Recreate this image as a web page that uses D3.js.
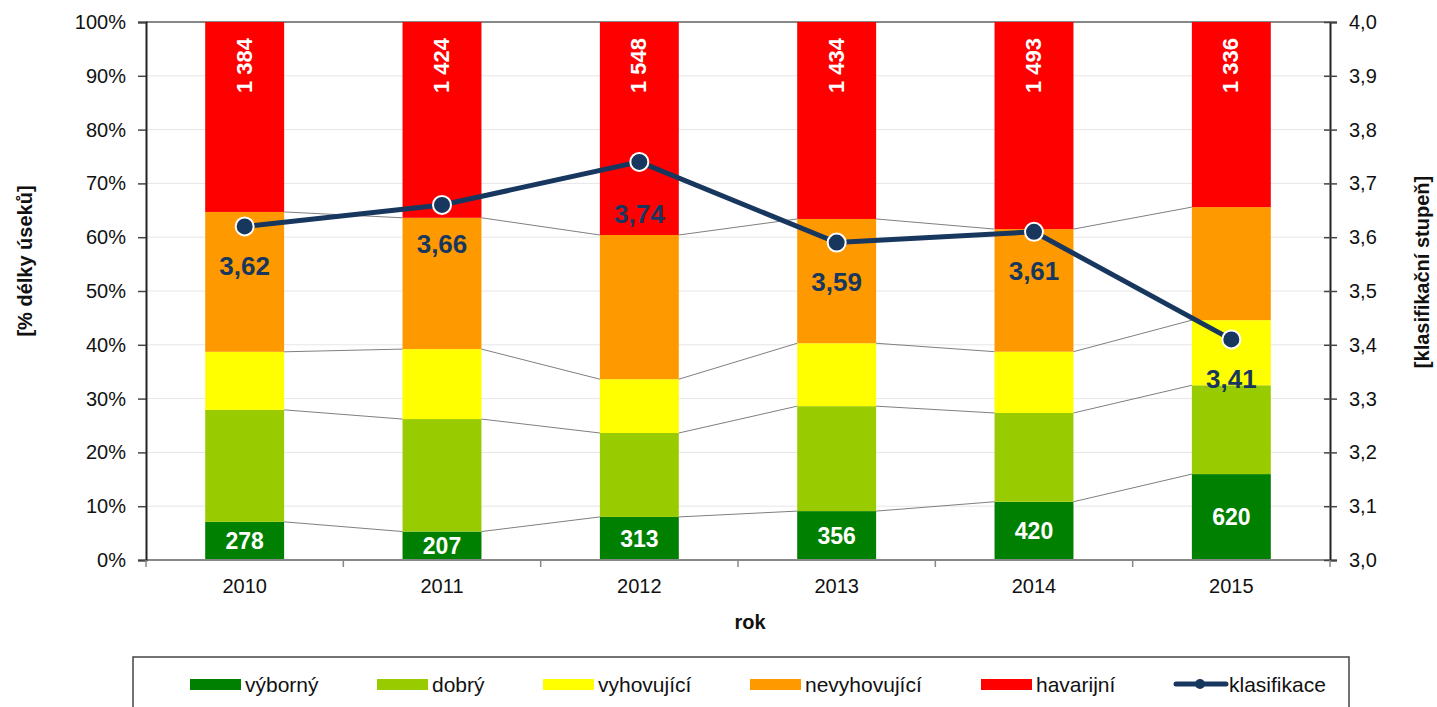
<!DOCTYPE html>
<html>
<head>
<meta charset="utf-8">
<style>
  body { margin: 0; background: #fff; }
  svg text { font-family: "Liberation Sans", Arial, sans-serif; }
</style>
<script src="https://cdn.jsdelivr.net/npm/d3@7"></script>
</head>
<body>
<div id="chart"></div>
<script>
// data (counts of road sections per class, and mean class)
const years = ['2010', '2011', '2012', '2013', '2014', '2015'];
const seriesNames = ['výborný', 'dobrý', 'vyhovující', 'nevyhovující', 'havarijní'];
const vyborny      = [278, 207, 313, 356, 420, 620];
const dobry        = [816, 818, 610, 764, 640, 641];
const vyhovujici   = [423, 509, 391, 458, 442, 470];
const nevyhovujici = [1019, 955, 1048, 905, 884, 816];
const havarijni    = [1384, 1424, 1548, 1434, 1493, 1336];
const klasifikace  = [3.62, 3.66, 3.74, 3.59, 3.61, 3.41];
const lineName = 'klasifikace';
const pctTicks = [0, 0.1, 0.2, 0.3, 0.4, 0.5, 0.6, 0.7, 0.8, 0.9, 1];
const gradeTicks = [3.0, 3.1, 3.2, 3.3, 3.4, 3.5, 3.6, 3.7, 3.8, 3.9, 4.0];

const colors = ['#008000', '#99CC00', '#FFFF00', '#FF9900', '#FF0000'];
const navy = '#17375E';

const cs = d3.formatLocale({decimal: ',', thousands: ' ', grouping: [3], currency: ['', ' Kč']});
const fmtPct = cs.format('.0%');
const fmtGrade = cs.format('.1f');
const fmtGrade2 = cs.format('.2f');
const fmtCount = cs.format(',d');

const W = 1437, H = 707;
const pLeft = 146, pRight = 1330, pTop = 22, pBottom = 560;

const cols = [vyborny, dobry, vyhovujici, nevyhovujici, havarijni];
const table = years.map((yr, i) => {
  const row = {year: yr};
  seriesNames.forEach((n, k) => row[n] = cols[k][i]);
  return row;
});
const stacked = d3.stack().keys(seriesNames).offset(d3.stackOffsetExpand)(table);

const x = d3.scaleBand().domain(years).range([pLeft, pRight]).paddingInner(0.6).paddingOuter(0.3);
const y = d3.scaleLinear().domain([0, 1]).range([pBottom, pTop]);
const y2 = d3.scaleLinear().domain([3, 4]).range([pBottom, pTop]);
const bw = x.bandwidth();
const gap = (x.step() - bw) / 2;

const svg = d3.select('#chart').append('svg').attr('width', W).attr('height', H);

// gridlines
svg.append('g').selectAll('line')
  .data(pctTicks.filter(t => t > 0 && t < 1))
  .enter().append('line')
  .attr('x1', pLeft).attr('x2', pRight)
  .attr('y1', d => y(d)).attr('y2', d => y(d))
  .attr('stroke', '#e6e6e6').attr('stroke-width', 1);
svg.append('line')
  .attr('x1', pLeft).attr('x2', pRight).attr('y1', y(1)).attr('y2', y(1))
  .attr('stroke', '#888').attr('stroke-width', 2);

// bars
svg.append('g').selectAll('g')
  .data(stacked)
  .enter().append('g')
  .attr('fill', (d, i) => colors[i])
  .selectAll('rect')
  .data(d => d)
  .enter().append('rect')
  .attr('x', d => x(d.data.year))
  .attr('width', bw)
  .attr('y', d => y(d[1]))
  .attr('height', d => y(d[0]) - y(d[1]));

// connector lines between bars
stacked.slice(0, 4).forEach(s => {
  for (let i = 0; i < s.length - 1; i++) {
    svg.append('line')
      .attr('x1', x(years[i]) + bw).attr('y1', y(s[i][1]))
      .attr('x2', x(years[i + 1])).attr('y2', y(s[i + 1][1]))
      .attr('stroke', '#7f7f7f').attr('stroke-width', 1);
  }
});

// bottom axis line
svg.append('line')
  .attr('x1', pLeft).attr('x2', pRight).attr('y1', pBottom).attr('y2', pBottom)
  .attr('stroke', '#888').attr('stroke-width', 2);

// bar labels
svg.append('g').selectAll('text')
  .data(stacked[0])
  .enter().append('text')
  .attr('x', d => x(d.data.year) + bw / 2)
  .attr('y', d => (y(d[0]) + y(d[1])) / 2)
  .attr('dy', '0.36em')
  .attr('text-anchor', 'middle')
  .attr('fill', '#fff').attr('font-size', 23).attr('font-weight', 'bold')
  .text(d => fmtCount(d.data[seriesNames[0]]));

svg.append('g').selectAll('text')
  .data(stacked[4])
  .enter().append('text')
  .attr('transform', d => `translate(${x(d.data.year) + bw / 2 - 1},${y(d[1]) + 16}) rotate(-90)`)
  .attr('dy', '0.36em')
  .attr('text-anchor', 'end')
  .attr('fill', '#fff').attr('font-size', 22).attr('font-weight', 'bold')
  .text(d => fmtCount(d.data[seriesNames[4]]));

// axes
const yAxis = svg.append('g')
  .attr('transform', `translate(${pLeft},0)`)
  .call(d3.axisLeft(y).tickValues(pctTicks).tickFormat(fmtPct).tickSize(8).tickPadding(12));
const y2Axis = svg.append('g')
  .attr('transform', `translate(${pRight},0)`)
  .call(d3.axisRight(y2).tickValues(gradeTicks).tickFormat(fmtGrade).tickSize(7).tickPadding(12));
y2Axis.selectAll('.tick line').attr('x1', -6);
const xAxis = svg.append('g')
  .attr('transform', `translate(0,${pBottom})`)
  .call(d3.axisBottom(x).tickSize(0).tickPadding(19));
xAxis.select('.domain').remove();
[yAxis, y2Axis].forEach(g => {
  g.select('.domain').attr('stroke', '#222').attr('stroke-width', 2);
  g.selectAll('.tick line').attr('stroke', '#444').attr('stroke-width', 1.5);
});
[yAxis, y2Axis, xAxis].forEach(g => {
  g.selectAll('text').attr('font-size', 20).attr('fill', '#111')
    .attr('font-family', '"Liberation Sans", Arial, sans-serif');
});
const bounds = years.map(yr => x(yr) - gap).concat([pRight]);
svg.append('g').selectAll('line')
  .data(bounds)
  .enter().append('line')
  .attr('x1', d => d).attr('x2', d => d)
  .attr('y1', pBottom).attr('y2', pBottom + 7)
  .attr('stroke', '#888').attr('stroke-width', 1.5);

// line series
const line = d3.line().x((d, i) => x(years[i]) + bw / 2).y(d => y2(d));
svg.append('path')
  .datum(klasifikace)
  .attr('d', line)
  .attr('fill', 'none').attr('stroke', navy).attr('stroke-width', 5);
svg.append('g').selectAll('circle')
  .data(klasifikace)
  .enter().append('circle')
  .attr('cx', (d, i) => x(years[i]) + bw / 2)
  .attr('cy', d => y2(d))
  .attr('r', 9)
  .attr('fill', navy).attr('stroke', '#fff').attr('stroke-width', 2);
svg.append('g').selectAll('text')
  .data(klasifikace)
  .enter().append('text')
  .attr('x', (d, i) => x(years[i]) + bw / 2)
  .attr('y', (d, i) => y2(d) + (i === 2 ? 52 : 39))
  .attr('dy', '0.36em')
  .attr('text-anchor', 'middle')
  .attr('fill', navy).attr('font-size', 26).attr('font-weight', 'bold')
  .text(d => fmtGrade2(d));

// axis titles
svg.append('text')
  .attr('transform', 'translate(25,261) rotate(-90)')
  .attr('dy', '0.36em').attr('text-anchor', 'middle')
  .attr('font-size', 20).attr('font-weight', 'bold').attr('fill', '#111')
  .text('[% délky úseků]');
svg.append('text')
  .attr('transform', 'translate(1422,272) rotate(-90)')
  .attr('dy', '0.36em').attr('text-anchor', 'middle')
  .attr('font-size', 20).attr('font-weight', 'bold').attr('fill', '#111')
  .text('[klasifikační stupeň]');
svg.append('text')
  .attr('x', 750).attr('y', 629)
  .attr('text-anchor', 'middle')
  .attr('font-size', 20).attr('font-weight', 'bold').attr('fill', '#111')
  .text('rok');

// legend
svg.append('rect')
  .attr('x', 133).attr('y', 657).attr('width', 1216).attr('height', 70)
  .attr('fill', '#fff').attr('stroke', '#444').attr('stroke-width', 1.5);
const legendX = [190, 377, 543, 750, 981, 1174];
const legendItems = seriesNames.concat([lineName]);
const lg = svg.append('g').selectAll('g')
  .data(legendItems)
  .enter().append('g')
  .attr('transform', (d, i) => `translate(${legendX[i]},684)`);
lg.filter((d, i) => i < 5).append('rect')
  .attr('x', 0).attr('y', -5).attr('width', 51).attr('height', 11)
  .attr('fill', (d, i) => colors[i]);
const ll = lg.filter((d, i) => i === 5);
ll.append('line').attr('x1', 2).attr('x2', 52).attr('y1', 0).attr('y2', 0)
  .attr('stroke', navy).attr('stroke-width', 5).attr('stroke-linecap', 'round');
ll.append('circle').attr('cx', 26).attr('cy', 0).attr('r', 5).attr('fill', navy);
lg.append('text')
  .attr('x', 55).attr('y', 0).attr('dy', '0.36em')
  .attr('font-size', 21).attr('fill', '#111')
  .text(d => d);
</script>
</body>
</html>
